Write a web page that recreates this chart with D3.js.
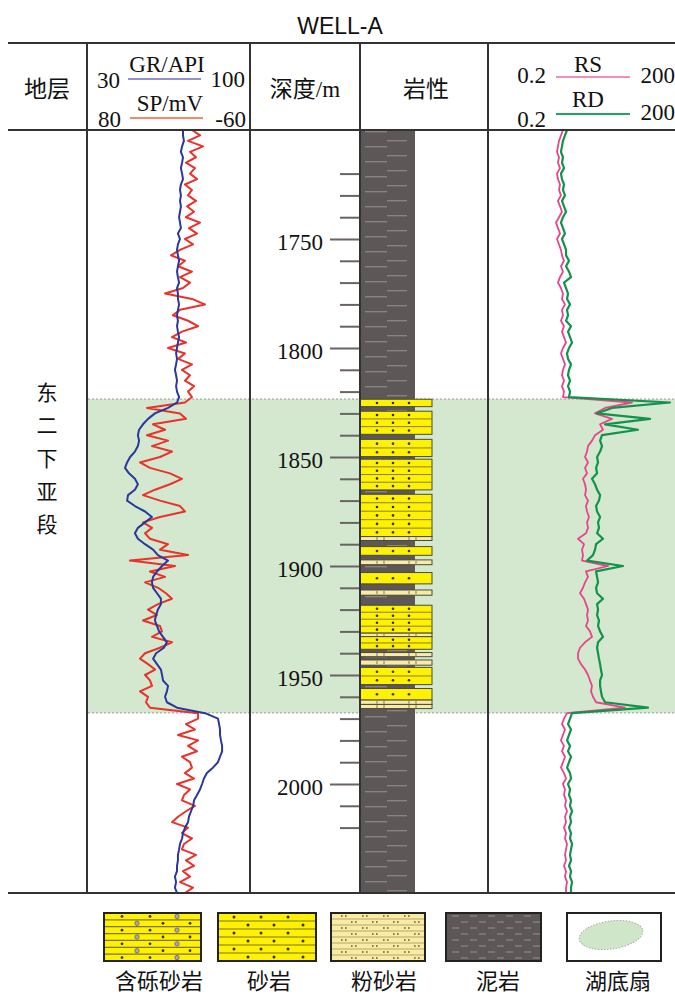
<!DOCTYPE html>
<html>
<head>
<meta charset="utf-8">
<script src="https://cdn.jsdelivr.net/npm/d3@7"></script>
<style>
  body { margin: 0; background: #fff; }
</style>
</head>
<body>
<div id="chart"></div>
<script>
// depth sampling of the logs (m)
var depths = d3.range(1700, 2050.01, 2.5);

// GR (API)
var grValues = [
  71.3, 71.3, 71.7, 70.9, 70.4, 71.3, 70.9, 70.4, 70.9, 71.3, 70.4, 70.0, 70.4, 70.0, 70.4, 70.0, 69.6, 70.0, 70.4, 69.1, 70.0, 69.1, 68.7, 69.1,
  69.6, 69.1, 68.7, 69.1, 69.6, 68.7, 69.1, 69.1, 69.6, 69.1, 68.7, 69.1, 68.7, 69.1, 69.6, 69.1, 68.7, 68.3, 68.7, 68.3, 67.8, 68.3, 68.7, 68.3, 68.7, 69.6,
  68.7, 64.8, 59.1, 56.1, 53.9, 52.2, 51.7, 52.2, 51.7, 50.4, 48.3, 47.0, 46.1, 47.8, 50.4, 51.7, 50.4, 47.4, 47.0, 50.4,
  54.8, 57.8, 54.8, 51.7, 50.4, 51.7, 54.8, 58.3, 60.4, 64.8, 62.2, 60.0, 58.3, 57.8, 58.3, 60.0, 61.7, 61.7, 60.4, 59.6,
  59.1, 60.0, 60.9, 62.6, 64.3, 63.0, 59.6, 58.3, 60.0, 61.7, 62.2, 62.6, 64.8, 64.3, 63.5, 64.3, 68.7,
  80.9, 86.5, 87.0, 87.4, 87.4, 87.8, 88.3, 88.3, 87.4, 86.5, 84.3, 81.7, 80.4, 79.6, 78.7, 77.4, 76.1, 75.7, 74.8, 73.9,
  73.5, 72.2, 71.3, 70.9, 70.0, 69.6, 69.1, 69.1, 68.7, 68.7, 67.8, 68.3, 67.8, 68.7
];

// SP (mV)
var spValues = [
  -10.4, -17.4, -7.0, -20.0, -8.7, -13.9, -5.2, -13.0, -8.7, -14.8, -4.3, -10.4, -7.0, -13.9, -6.1, -12.2, -5.2, -17.4, -7.8, -14.8,
  -4.3, -11.3, 0.0, 7.8, -4.3, 1.7, -10.4, 0.0, -8.7, -2.6, 13.0, -10.4, -21.7, 0.0, 6.1, -7.0, -15.7, -1.7, 7.0, -5.2,
  10.4, -4.3, 1.7, -10.4, -1.7, -8.7, -4.3, -12.2, -7.0, -10.4,
  -4.3, 28.7, 0.0, -5.2, 23.5, 13.0, 28.7, 10.4, 24.3, 7.0, 17.4, 34.8, 26.1, 8.7, -1.7, 8.7, 21.7, 32.2, 17.4, 0.0,
  -4.3, 17.4, 32.2, 24.3, 30.4, 26.1, 10.4, 17.4, -7.0, 43.5, 4.3, 26.1, 13.0, 30.4, 19.1, 12.2, 7.0, 19.1, 27.8, 20.0,
  32.2, 17.4, 15.7, 24.3, 7.0, 17.4, 30.4, 34.8, 27.8, 21.7, 30.4, 26.1, 24.3, 34.8, 27.8, 29.6, 26.1,
  -15.7, -15.7, -5.2, -13.0, 1.7, -15.7, -7.0, -14.8, -1.7, -8.7, -10.4, -4.3, -12.2, 2.6, -8.7, -3.5, -1.7, -13.0, -5.2, 1.7,
  7.0, -7.0, -1.7, -10.4, -3.5, -1.7, -13.9, -5.2, -12.2, -2.6, -8.7, 0.0, -11.3, -4.3
];

// RS (ohm.m)
var rsValues = [
  3.05, 2.83, 2.63, 2.53, 2.44, 2.63, 2.53, 2.73, 2.44, 2.53, 2.73, 2.63, 2.83, 2.53, 2.73, 2.94, 2.63, 2.35, 2.53, 2.73,
  2.44, 2.63, 2.83, 2.94, 3.17, 2.83, 3.05, 2.73, 2.53, 2.83, 3.05, 2.94, 3.29, 2.94, 3.05, 2.83, 3.17, 2.94, 3.17, 3.42,
  3.05, 2.83, 3.05, 3.29, 3.05, 2.94, 3.17, 2.94, 3.17, 3.05,
  40.2, 14.7, 10.1, 19.0, 12.2, 13.6, 10.1, 9.02, 7.77, 7.49, 6.95, 7.77, 6.95, 7.49, 6.44, 6.95, 7.21, 6.95, 7.77, 7.21,
  7.49, 8.07, 7.49, 7.77, 7.21, 5.35, 6.69, 6.21, 6.44, 6.21, 16.4, 7.21, 7.77, 6.95, 6.44, 5.76, 6.69, 7.21, 7.77, 7.49,
  7.77, 7.21, 8.37, 9.02, 6.95, 5.76, 5.35, 5.35, 5.98, 6.95, 7.77, 8.37, 9.02, 8.69, 9.36, 10.5, 30.9,
  3.55, 3.17, 2.94, 3.29, 3.05, 2.83, 3.17, 2.94, 3.29, 3.05, 2.83, 3.17, 3.42, 3.05, 3.29, 3.17, 3.42, 3.29, 3.55, 3.29,
  3.42, 3.17, 3.42, 3.29, 3.55, 3.42, 3.29, 3.42, 3.17, 3.42, 3.29, 3.55, 3.42, 3.42
];

// RD (ohm.m)
var rdValues = [
  3.55, 3.29, 3.05, 2.94, 2.83, 3.05, 2.94, 3.17, 2.83, 2.94, 3.17, 3.05, 3.29, 2.94, 3.17, 3.42, 3.05, 2.83, 3.05, 3.29,
  2.94, 3.17, 3.42, 3.42, 3.82, 3.42, 3.82, 4.12, 3.17, 3.42, 3.68, 3.55, 3.97, 3.55, 3.68, 3.42, 4.12, 3.68, 3.97, 4.28,
  3.82, 3.55, 3.68, 4.12, 3.82, 3.68, 3.97, 3.68, 3.97, 3.82,
  166, 19.0, 10.9, 78.7, 14.7, 50.2, 13.1, 12.2, 13.1, 12.2, 10.9, 11.3, 10.5, 10.9, 9.02, 10.1, 10.9, 12.2, 11.7, 10.5,
  10.9, 12.2, 11.3, 11.7, 10.9, 13.6, 10.5, 10.1, 9.36, 7.49, 28.7, 10.5, 10.9, 11.3, 10.5, 10.9, 13.6, 10.9, 11.3, 10.9,
  11.7, 11.3, 12.2, 13.6, 11.3, 10.9, 11.3, 11.7, 12.2, 12.6, 13.1, 12.2, 12.2, 12.6, 13.1, 14.7, 73.0,
  4.28, 3.97, 3.68, 4.12, 3.82, 3.55, 3.97, 3.68, 4.12, 3.82, 3.55, 3.97, 4.12, 3.68, 3.97, 3.82, 4.12, 3.97, 4.28, 3.97,
  4.12, 3.82, 4.12, 3.97, 4.28, 4.12, 3.97, 4.12, 3.82, 4.12, 3.97, 4.28, 4.12, 4.12
];

// lithology beds inside the mudstone column
var bedTop  = [1823.5, 1829.0, 1841.9, 1851.0, 1867.1, 1886.5, 1891.1, 1897.2, 1903.0, 1911.0, 1918.0, 1930.8, 1932.4, 1939.7, 1943.1, 1946.5, 1956.2, 1961.5, 1963.5];
var bedBase = [1826.9, 1839.6, 1849.8, 1865.1, 1886.5, 1888.3, 1895.1, 1899.4, 1908.2, 1913.4, 1930.8, 1932.4, 1938.2, 1941.6, 1945.5, 1954.4, 1961.5, 1963.5, 1965.4];
var bedType = ["sand", "sand", "sand", "sand", "sand", "silt", "sand", "silt", "sand", "silt", "sand", "silt", "sand", "silt", "silt", "sand", "sand", "silt", "silt"];

var depthTicks = d3.range(1720, 2020.01, 10);
var fanTop = 1823.4, fanBase = 1967.4;
var stratumName = "东二下亚段";
var legendNames = ["含砾砂岩", "砂岩", "粉砂岩", "泥岩", "湖底扇"];
var legendTypes = ["pebbly", "sand", "silt", "mud", "fan"];

// ---------------- layout ----------------
var svgWidth = 675, svgHeight = 997;
var tableLeft = 8, tableRight = 675;
var topLine = 43, headLine = 130, bottomLine = 893;
var colLines = [87, 250, 360, 488];

var serif = "'Liberation Serif', 'Times New Roman', 'Noto Sans CJK SC', serif";
var cjk = "'Noto Sans CJK SC', sans-serif";
var yellow = "#fff200", pale = "#f8eba8", mudGrey = "#5d5757";

var svg = d3.select("#chart").append("svg")
  .attr("width", svgWidth)
  .attr("height", svgHeight)
  .style("background", "#fff");

var defs = svg.append("defs");

// scales
var y = d3.scaleLinear().domain([1700, 2050]).range([headLine, bottomLine]);
var grX = d3.scaleLinear().domain([30, 100]).range([88, 249]);
var spX = d3.scaleLinear().domain([80, -60]).range([88, 249]);
var resX = d3.scaleLog().domain([0.2, 200]).range([490, 675]);

// mudstone dash pattern
var mudPat = defs.append("pattern")
  .attr("id", "mud")
  .attr("patternUnits", "userSpaceOnUse")
  .attr("x", 360).attr("y", 139)
  .attr("width", 55).attr("height", 15);
mudPat.append("rect").attr("width", 55).attr("height", 15).attr("fill", mudGrey);
mudPat.append("line").attr("x1", 5).attr("x2", 27).attr("y1", 7.7).attr("y2", 7.7)
  .attr("stroke", "#8b8483").attr("stroke-width", 1.3);
mudPat.append("line").attr("x1", 27).attr("x2", 47).attr("y1", 1.7).attr("y2", 1.7)
  .attr("stroke", "#8b8483").attr("stroke-width", 1.3);

// lake-bottom fan band
var fanG = svg.append("g");
fanG.append("rect")
  .attr("x", colLines[0] + 1)
  .attr("y", y(fanTop))
  .attr("width", tableRight - colLines[0] - 1)
  .attr("height", y(fanBase) - y(fanTop))
  .attr("fill", "#d3e8cf");
[fanTop, fanBase].forEach(function(d) {
  fanG.append("line")
    .attr("x1", colLines[0] + 1).attr("x2", tableRight)
    .attr("y1", y(d)).attr("y2", y(d))
    .attr("stroke", "#9a9a9a")
    .attr("stroke-width", 1)
    .attr("stroke-dasharray", "2,2");
});

// ---------------- lithology column ----------------
var litG = svg.append("g");
litG.append("rect")
  .attr("x", 360).attr("y", y(1700))
  .attr("width", 55).attr("height", y(2050) - y(1700))
  .attr("fill", "url(#mud)");

var beds = bedTop.map(function(t, i) {
  return { top: t, base: bedBase[i], type: bedType[i] };
});

beds.forEach(function(b) {
  var y0 = y(b.top), y1 = y(b.base);
  var g = litG.append("g");
  g.append("rect")
    .attr("x", 360).attr("y", y0)
    .attr("width", 72).attr("height", y1 - y0)
    .attr("fill", b.type === "sand" ? yellow : pale)
    .attr("stroke", "#4a4a3a")
    .attr("stroke-width", 1);
  if (b.type === "sand") {
    var rows = Math.max(1, Math.round((b.base - b.top) / 3.6));
    var rh = (y1 - y0) / rows;
    for (var r = 0; r < rows; r++) {
      if (r > 0) {
        g.append("line")
          .attr("x1", 360).attr("x2", 432)
          .attr("y1", y0 + r * rh).attr("y2", y0 + r * rh)
          .attr("stroke", "#8a7d2a").attr("stroke-width", 1);
      }
      [377, 393, 409].forEach(function(cx) {
        g.append("circle")
          .attr("cx", cx).attr("cy", y0 + (r + 0.5) * rh)
          .attr("r", 1.3).attr("fill", "#333");
      });
    }
  } else {
    var my = (y0 + y1) / 2;
    [377, 384, 409, 416].forEach(function(cx) {
      g.append("line")
        .attr("x1", cx).attr("x2", cx)
        .attr("y1", my - 1.5).attr("y2", my + 1.5)
        .attr("stroke", "#9a8a4a").attr("stroke-width", 1.2);
    });
  }
});

// ---------------- depth axis ----------------
var depthAxis = d3.axisLeft(y)
  .tickValues(depthTicks)
  .tickSize(20)
  .tickPadding(8)
  .tickFormat(function(d) { return d % 50 === 0 ? d : ""; });

var axisG = svg.append("g")
  .attr("transform", "translate(360,0)")
  .call(depthAxis);
axisG.select(".domain").remove();
axisG.selectAll(".tick line")
  .attr("stroke", "#6b6360")
  .attr("stroke-width", 2)
  .attr("x2", function(d) { return d % 50 === 0 ? -30 : -20; });
axisG.selectAll(".tick text")
  .attr("x", -37)
  .attr("dy", "0.45em")
  .style("font-family", serif)
  .style("font-size", "23px")
  .attr("fill", "#111");

// ---------------- log curves ----------------
var logData = depths.map(function(d, i) {
  return { depth: d, gr: grValues[i], sp: spValues[i], rs: rsValues[i], rd: rdValues[i] };
});

function curve(xs, key) {
  return d3.line()
    .x(function(d) { return xs(d[key]); })
    .y(function(d) { return y(d.depth); });
}

var curveG = svg.append("g").attr("fill", "none").attr("stroke-linejoin", "round");
curveG.append("path").datum(logData)
  .attr("d", curve(spX, "sp"))
  .attr("stroke", "#e8322a").attr("stroke-width", 2);
curveG.append("path").datum(logData)
  .attr("d", curve(grX, "gr"))
  .attr("stroke", "#2b379b").attr("stroke-width", 2);
curveG.append("path").datum(logData)
  .attr("d", curve(resX, "rs"))
  .attr("stroke", "#e8458c").attr("stroke-width", 1.8);
curveG.append("path").datum(logData)
  .attr("d", curve(resX, "rd"))
  .attr("stroke", "#12924a").attr("stroke-width", 2.2);

// ---------------- table frame ----------------
var frame = svg.append("g").attr("stroke", "#333").attr("stroke-width", 2);
[topLine, headLine, bottomLine].forEach(function(ly) {
  frame.append("line")
    .attr("x1", tableLeft).attr("x2", tableRight)
    .attr("y1", ly).attr("y2", ly);
});
colLines.forEach(function(lx) {
  frame.append("line")
    .attr("x1", lx).attr("x2", lx)
    .attr("y1", topLine).attr("y2", bottomLine);
});

// ---------------- header ----------------
function label(x, yy, s, size, anchor, family) {
  return svg.append("text")
    .attr("x", x).attr("y", yy)
    .attr("text-anchor", anchor || "middle")
    .style("font-family", family || serif)
    .style("font-size", (size || 22) + "px")
    .attr("fill", "#111")
    .text(s);
}

label(340, 34, "WELL-A", 23, "middle", "'Liberation Sans', Arial, sans-serif");
label(47, 97, "地层", 23, "middle", cjk);
label(305, 97, "深度/m", 23, "middle", serif);
label(426, 97, "岩性", 23, "middle", cjk);

// GR / SP key
label(97, 88, "30", 23, "start");
label(245, 87, "100", 23, "end");
label(167, 72, "GR/API", 23);
label(98, 127, "80", 23, "start");
label(246, 127, "-60", 23, "end");
label(170, 111, "SP/mV", 23);
svg.append("line").attr("x1", 128).attr("x2", 201).attr("y1", 79).attr("y2", 79)
  .attr("stroke", "#9191d2").attr("stroke-width", 2);
svg.append("line").attr("x1", 130).attr("x2", 203).attr("y1", 118).attr("y2", 118)
  .attr("stroke", "#f28a6c").attr("stroke-width", 2);

// RS / RD key
label(546, 83, "0.2", 23, "end");
label(675, 83, "200", 23, "end");
label(588, 72, "RS", 23);
label(546, 127, "0.2", 23, "end");
label(675, 120, "200", 23, "end");
label(588, 107, "RD", 23);
svg.append("line").attr("x1", 556).attr("x2", 630).attr("y1", 77).attr("y2", 77)
  .attr("stroke", "#f28dbe").attr("stroke-width", 2);
svg.append("line").attr("x1", 556).attr("x2", 630).attr("y1", 114).attr("y2", 114)
  .attr("stroke", "#22a463").attr("stroke-width", 2);

// stratum name, written vertically
stratumName.split("").forEach(function(ch, i) {
  label(47, 400 + i * 33, ch, 21, "middle", cjk);
});

// ---------------- legend ----------------
var legendX = [104, 218, 331, 446, 567];
var legendW = [97, 98, 94, 95, 94];
var legendTop = 913, legendH = 48;
var labelX = [159, 269, 384, 498, 618];

function legendBox(type, x, w) {
  var g = svg.append("g");
  var yy = legendTop, h = legendH;
  var fill = { pebbly: yellow, sand: yellow, silt: pale, mud: mudGrey, fan: "#fff" }[type];
  g.append("rect").attr("x", x).attr("y", yy).attr("width", w).attr("height", h).attr("fill", fill);
  var rows = { pebbly: 7, sand: 6, silt: 8, mud: 8, fan: 0 }[type];
  var rh = h / Math.max(rows, 1);
  for (var r = 0; r < rows; r++) {
    var cy = yy + (r + 0.5) * rh;
    if (type !== "mud" && r > 0) {
      g.append("line").attr("x1", x).attr("x2", x + w)
        .attr("y1", yy + r * rh).attr("y2", yy + r * rh)
        .attr("stroke", type === "silt" ? "#b5a561" : "#7f7220").attr("stroke-width", 1.2);
    }
    if (type === "pebbly") {
      (r % 2 === 0 ? [18, 46] : [59, 86]).forEach(function(dx) {
        g.append("circle").attr("cx", x + dx).attr("cy", cy).attr("r", 1.4).attr("fill", "#333");
      });
      g.append("circle").attr("cx", x + (r % 2 === 0 ? 73 : 33)).attr("cy", cy).attr("r", 2.2)
        .attr("fill", "#aaa").attr("stroke", "#666").attr("stroke-width", 0.8);
    } else if (type === "sand") {
      (r % 2 === 0 ? [16, 43, 70] : [30, 56, 85]).forEach(function(dx) {
        g.append("circle").attr("cx", x + dx).attr("cy", cy).attr("r", 1.5).attr("fill", "#333");
      });
    } else if (type === "silt") {
      (r % 2 === 0 ? [10, 31, 52, 73] : [20, 41, 62, 83]).forEach(function(dx) {
        [0, 4].forEach(function(o) {
          g.append("rect").attr("x", x + dx + o).attr("y", cy - 1).attr("width", 1.6).attr("height", 2)
            .attr("fill", "#8f7f45");
        });
      });
    } else if (type === "mud") {
      (r % 2 === 0 ? [6, 24, 42, 60, 78] : [15, 33, 51, 69, 87]).forEach(function(dx) {
        if (dx + 7 < w) {
          g.append("line").attr("x1", x + dx).attr("x2", x + dx + 7)
            .attr("y1", cy).attr("y2", cy)
            .attr("stroke", "#8b8483").attr("stroke-width", 1.3);
        }
      });
    }
  }
  if (type === "fan") {
    g.append("ellipse")
      .attr("cx", x + 44).attr("cy", yy + 22)
      .attr("rx", 32).attr("ry", 14)
      .attr("transform", "rotate(-8," + (x + 44) + "," + (yy + 22) + ")")
      .attr("fill", "#cfe6c9")
      .attr("stroke", "#a8a8a8").attr("stroke-width", 1)
      .attr("stroke-dasharray", "1.5,1.5");
  }
  g.append("rect").attr("x", x).attr("y", yy).attr("width", w).attr("height", h)
    .attr("fill", "none").attr("stroke", "#222").attr("stroke-width", 2);
}

legendTypes.forEach(function(t, i) {
  legendBox(t, legendX[i], legendW[i]);
  label(labelX[i], 989, legendNames[i], 22, "middle", cjk);
});
</script>
</body>
</html>
